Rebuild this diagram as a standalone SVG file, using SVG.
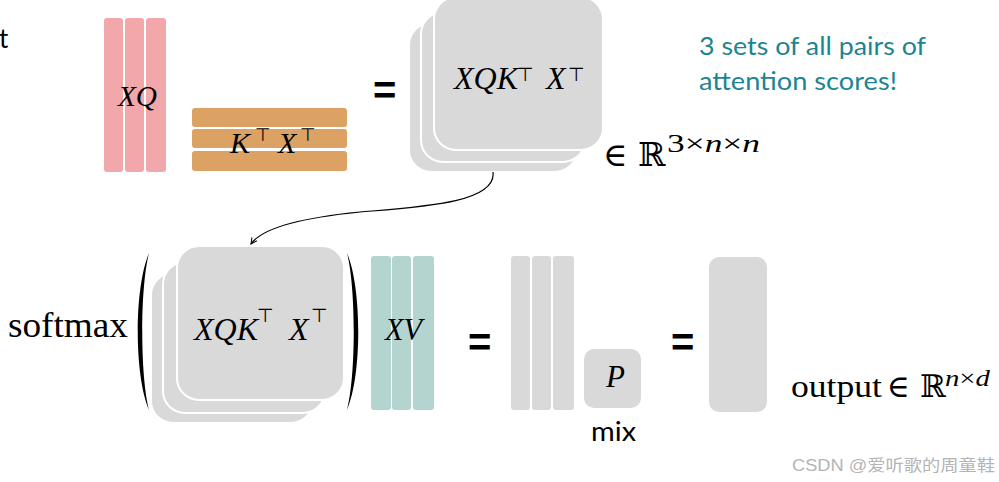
<svg xmlns="http://www.w3.org/2000/svg" width="999" height="482" viewBox="0 0 999 482">
<defs>
<style>
.sans{font-family:"Lato","Liberation Sans","Noto Sans",sans-serif;fill:#000}
.mi{font-family:"Liberation Serif","DejaVu Serif",serif;font-style:italic;fill:#000}
.rm{font-family:"Liberation Serif","DejaVu Serif",serif;fill:#000}
.sym{font-family:"DejaVu Serif","DejaVu Sans",serif;fill:#000}
.tack{font-family:"DejaVu Sans",sans-serif;font-style:normal;fill:#000}
.eq{font-family:"Liberation Sans","DejaVu Sans",sans-serif;font-weight:bold;font-size:40px;fill:#000}
.gray{fill:#D9D9D9}
.sq{fill:#D9D9D9;stroke:#fff;stroke-width:2}
.pink{fill:#F2A7AA}
.orange{fill:#DBA263}
.teal{fill:#B4D4CF}
.note{font-family:"Lato","Liberation Sans","Noto Sans",sans-serif;fill:#1B8592;font-size:25px}
.conn{fill:none;stroke:#000;stroke-width:1.2}
</style>
<marker id="arrow" markerWidth="8" markerHeight="8" refX="7" refY="4" orient="auto" markerUnits="userSpaceOnUse">
<path d="M1,1 L7,4 L1,7" fill="none" stroke="#000" stroke-width="1"/>
</marker>
</defs>
<rect width="999" height="482" fill="#fff"/>

<g id="cut-label">
<text class="sans" x="-1" y="48" font-size="26">t</text>
</g>

<g id="XQ">
<rect class="pink" x="104" y="18" width="19" height="154" rx="3"/>
<rect class="pink" x="125" y="18" width="19" height="154" rx="3"/>
<rect class="pink" x="146" y="18" width="20" height="154" rx="3"/>
<text class="mi" x="118" y="106" font-size="30" textLength="39" lengthAdjust="spacingAndGlyphs">XQ</text>
</g>

<g id="KTXT">
<rect class="orange" x="192" y="108" width="155" height="19" rx="3"/>
<rect class="orange" x="192" y="129" width="155" height="19" rx="3"/>
<rect class="orange" x="192" y="151" width="155" height="20" rx="3"/>
<text class="mi" font-size="30"><tspan x="230" y="153">K</tspan><tspan class="tack" x="255" y="141" font-size="18">⊤</tspan><tspan x="278" y="153">X</tspan><tspan class="tack" x="300" y="141" font-size="18">⊤</tspan></text>
</g>

<g id="eq1"><text class="eq" x="373" y="104">=</text></g>

<g id="scores-top">
<rect class="sq" x="409" y="23" width="168" height="149" rx="22"/>
<rect class="sq" x="421" y="12" width="164" height="150" rx="22"/>
<rect class="sq" x="434" y="-3" width="169" height="153" rx="22"/>
<text class="mi" font-size="32"><tspan x="454" y="89">XQK</tspan><tspan class="tack" x="517" y="81" font-size="19">⊤</tspan><tspan x="546" y="89">X</tspan><tspan class="tack" x="568" y="81" font-size="19">⊤</tspan></text>
</g>

<g id="dim-top">
<text class="sym" x="603" y="166" font-size="33">∈</text>
<text class="sym" x="638" y="166" font-size="33">ℝ</text>
<text class="mi" x="667" y="152" font-size="26" textLength="93" lengthAdjust="spacingAndGlyphs"><tspan font-style="normal">3×</tspan>n<tspan font-style="normal">×</tspan>n</text>
</g>

<g id="note">
<text class="note" x="699" y="55" textLength="227" lengthAdjust="spacingAndGlyphs">3 sets of all pairs of</text>
<text class="note" x="699" y="90" textLength="198" lengthAdjust="spacingAndGlyphs">attention scores!</text>
</g>

<g id="softmax">
<text class="rm" x="8" y="337" font-size="35" textLength="120" lengthAdjust="spacingAndGlyphs">softmax</text>
<path d="M149,253 C134,288 134,375 149,410 C140,375 140,288 149,253 Z" fill="#000"/>
<path d="M347,253 C362,288 362,375 347,410 C356,375 356,288 347,253 Z" fill="#000"/>
</g>

<g id="scores-bottom">
<rect class="sq" x="151" y="273" width="162" height="150" rx="22"/>
<rect class="sq" x="163" y="262" width="162" height="151" rx="22"/>
<rect class="sq" x="177" y="246" width="167" height="154" rx="22"/>
<text class="mi" font-size="32"><tspan x="194" y="340">XQK</tspan><tspan class="tack" x="257" y="322" font-size="19">⊤</tspan><tspan x="289" y="340">X</tspan><tspan class="tack" x="311" y="322" font-size="19">⊤</tspan></text>
</g>

<g id="XV">
<rect class="teal" x="371" y="256" width="20" height="154" rx="3"/>
<rect class="teal" x="392" y="256" width="19" height="154" rx="3"/>
<rect class="teal" x="413" y="256" width="21" height="154" rx="3"/>
<text class="mi" x="385" y="340" font-size="31" textLength="37" lengthAdjust="spacingAndGlyphs">XV</text>
</g>

<g id="eq2"><text class="eq" x="468" y="356">=</text></g>

<g id="heads">
<rect class="gray" x="511" y="256" width="19" height="154" rx="3"/>
<rect class="gray" x="532" y="256" width="19" height="154" rx="3"/>
<rect class="gray" x="553" y="256" width="21" height="154" rx="3"/>
</g>

<g id="P">
<rect class="gray" x="584" y="349" width="57" height="59" rx="10"/>
<text class="mi" x="606" y="387" font-size="31">P</text>
<text class="sans" x="591" y="441" font-size="26" textLength="45" lengthAdjust="spacingAndGlyphs">mix</text>
</g>

<g id="eq3"><text class="eq" x="671" y="356">=</text></g>

<g id="output">
<rect class="gray" x="709" y="257" width="58" height="155" rx="10"/>
<text class="rm" x="791" y="397" font-size="32" textLength="91" lengthAdjust="spacingAndGlyphs">output</text>
<text class="sym" x="887" y="397" font-size="31">∈</text>
<text class="sym" x="920" y="397" font-size="31">ℝ</text>
<text class="mi" x="945" y="386" font-size="24" textLength="45" lengthAdjust="spacingAndGlyphs">n<tspan font-style="normal">×</tspan>d</text>
</g>

<g id="connectors">
<path class="conn" d="M493,172 C497,203 420,207 360,212 C300,218 262,228 251,244" marker-end="url(#arrow)"/>
</g>

<g id="watermark">
<text x="792" y="471" font-size="16" fill="#B4B4B4" font-family="Liberation Sans, Noto Sans CJK SC, sans-serif" textLength="203" lengthAdjust="spacingAndGlyphs">CSDN @爱听歌的周童鞋</text>
</g>
</svg>
